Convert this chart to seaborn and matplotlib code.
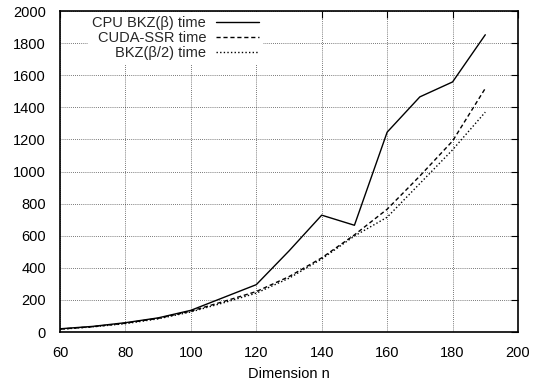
import matplotlib
matplotlib.use("Agg")
import matplotlib.pyplot as plt
import seaborn as sns
import pandas as pd

# Running time against lattice dimension
dimensions = [60, 70, 80, 90, 100, 110, 120, 130, 140, 150, 160, 170, 180, 190]
cpu_bkz_time = [20, 35, 58, 88, 135, 215, 295, 505, 728, 665, 1245, 1465, 1558, 1852]
cuda_ssr_time = [18, 33, 55, 85, 130, 190, 252, 345, 462, 605, 765, 972, 1190, 1518]
bkz_half_time = [17, 32, 52, 82, 125, 182, 242, 335, 455, 598, 715, 925, 1135, 1370]

series_names = ["CPU BKZ(β) time", "CUDA-SSR time", "BKZ(β/2) time"]
x_ticks = [60, 80, 100, 120, 140, 160, 180, 200]
y_ticks = [0, 200, 400, 600, 800, 1000, 1200, 1400, 1600, 1800, 2000]

frames = []
for name, values in zip(series_names, [cpu_bkz_time, cuda_ssr_time, bkz_half_time]):
    frames.append(pd.DataFrame({"Dimension n": dimensions, "time": values, "series": name}))
data = pd.concat(frames, ignore_index=True)

sns.set_theme(style="white")
plt.rcParams["font.family"] = ["Liberation Sans", "DejaVu Sans"]
fs = 10.5

fig = plt.figure(figsize=(5.42, 3.81), dpi=100)
ax = fig.add_axes([60 / 542, 49 / 381, 458 / 542, 321 / 381])

sns.lineplot(
    data=data, x="Dimension n", y="time", hue="series", style="series",
    palette=["black"] * 3,
    dashes={series_names[0]: "", series_names[1]: (3, 2), series_names[2]: (1, 1.6)},
    linewidth=1.0, ax=ax, legend=True,
)

ax.set_xlim(60, 200)
ax.set_ylim(0, 2000)
ax.set_xticks(x_ticks)
ax.set_yticks(y_ticks)
ax.set_xticklabels([str(v) for v in x_ticks], fontsize=fs, color="black")
ax.set_yticklabels([str(v) for v in y_ticks], fontsize=fs, color="black")
ax.set_xlabel("Dimension n", fontsize=fs, color="black", labelpad=5)
ax.set_ylabel("")

ax.tick_params(axis="both", which="major", direction="in", length=5, width=0.8,
               top=True, right=True, color="black")
ax.tick_params(axis="y", pad=10)
ax.tick_params(axis="x", pad=10)

ax.grid(True, color="black", linewidth=0.6, linestyle=(0, (1, 1.5)), alpha=0.7)
ax.set_axisbelow(True)
for spine in ax.spines.values():
    spine.set_color("black")
    spine.set_linewidth(1.2)
    spine.set_visible(True)

handles, labels = ax.get_legend_handles_labels()
leg = ax.legend(
    handles, labels, loc="upper right",
    bbox_to_anchor=(263 / 542, 1 - 12 / 381), bbox_transform=fig.transFigure,
    markerfirst=False, frameon=True, fontsize=fs,
    handlelength=2.9, handletextpad=0.7, labelspacing=0.07,
    borderpad=0.3, borderaxespad=0,
)
leg.get_frame().set_facecolor("white")
leg.get_frame().set_edgecolor("none")
leg.get_frame().set_alpha(1.0)
leg.get_frame().set_boxstyle("square", pad=0)
for line in leg.get_lines():
    line.set_linewidth(1.0)

fig.savefig("out.png", dpi=100, facecolor="white")
